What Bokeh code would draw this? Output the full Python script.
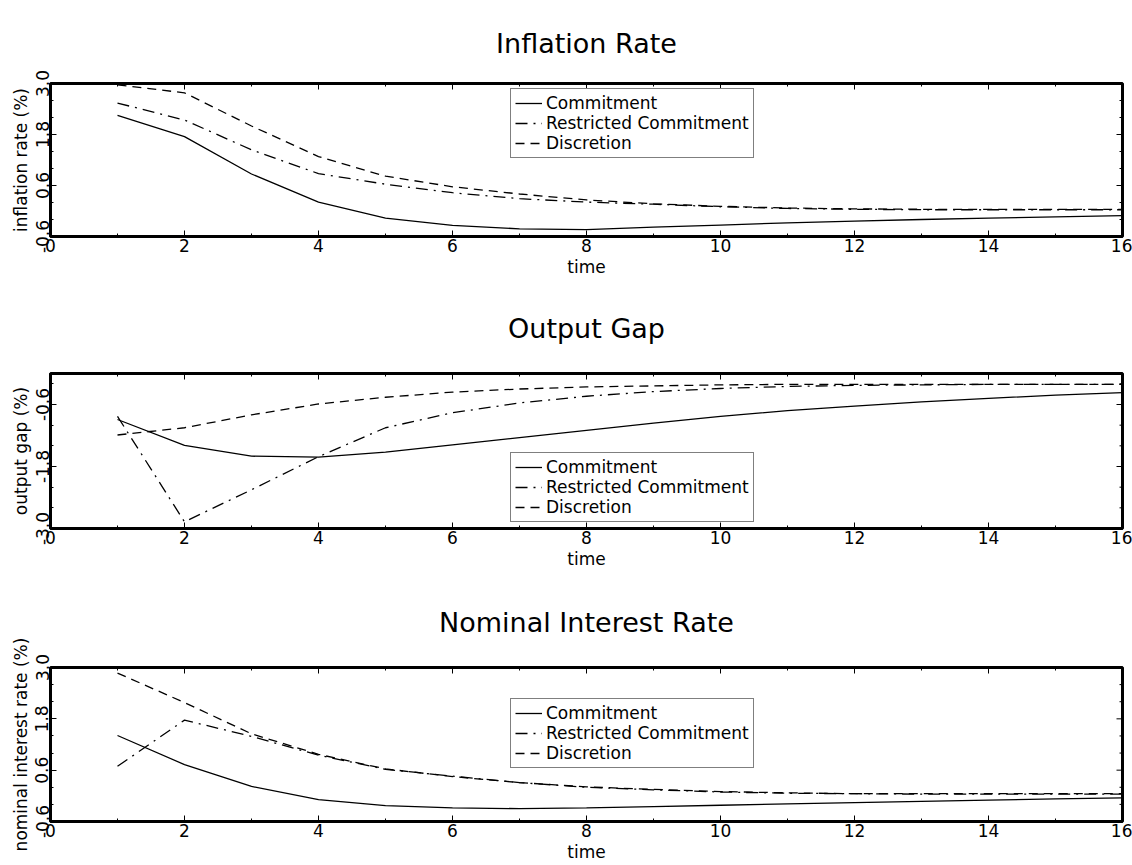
import math
from bokeh.plotting import figure
from bokeh.models import FixedTicker, Legend, LegendItem, Range1d, PrintfTickFormatter
from bokeh.layouts import column
from bokeh.embed import file_html
from bokeh.resources import INLINE

# ---------------- data ----------------
time = list(range(1, 17))

infl_commit = [2.25, 1.75, 0.87, 0.21, -0.17, -0.34, -0.42, -0.44, -0.38, -0.33, -0.28, -0.24, -0.20, -0.17, -0.14, -0.11]
infl_restr = [2.54, 2.14, 1.44, 0.88, 0.63, 0.43, 0.29, 0.21, 0.16, 0.10, 0.06, 0.04, 0.03, 0.03, 0.03, 0.03]
infl_disc = [2.97, 2.78, 2.00, 1.28, 0.82, 0.57, 0.40, 0.26, 0.17, 0.11, 0.07, 0.05, 0.04, 0.04, 0.04, 0.04]

gap_commit = [-0.89, -1.39, -1.60, -1.62, -1.52, -1.38, -1.24, -1.10, -0.96, -0.83, -0.72, -0.63, -0.55, -0.48, -0.42, -0.37]
gap_restr = [-0.83, -2.87, -2.25, -1.61, -1.05, -0.76, -0.57, -0.44, -0.35, -0.29, -0.25, -0.23, -0.22, -0.21, -0.21, -0.21]
gap_disc = [-1.19, -1.05, -0.80, -0.59, -0.46, -0.36, -0.30, -0.26, -0.24, -0.22, -0.21, -0.21, -0.21, -0.21, -0.21, -0.21]

int_commit = [1.41, 0.73, 0.22, -0.09, -0.23, -0.28, -0.30, -0.28, -0.25, -0.22, -0.19, -0.16, -0.13, -0.10, -0.07, -0.05]
int_restr = [0.69, 1.77, 1.39, 0.95, 0.62, 0.46, 0.31, 0.20, 0.14, 0.09, 0.06, 0.05, 0.04, 0.04, 0.04, 0.04]
int_disc = [2.87, 2.18, 1.45, 0.97, 0.63, 0.45, 0.31, 0.21, 0.15, 0.10, 0.07, 0.05, 0.05, 0.05, 0.05, 0.05]

series_names = ["Commitment", "Restricted Commitment", "Discretion"]
x_ticks = [0, 2, 4, 6, 8, 10, 12, 14, 16]
x_minor = [1, 3, 5, 7, 9, 11, 13, 15]
y_ticks_a = [-0.6, 0.6, 1.8, 3.0]
y_minor_a = [-0.2, 0.2, 1.0, 1.4, 2.2, 2.6]
y_ticks_b = [-3.0, -1.8, -0.6]
y_minor_b = [-2.6, -2.2, -1.4, -1.0, -0.2]

FONT = "DejaVu Sans"
DASHES = ["solid", "12 6 2 6", "9 6"]


def panel(title, ylabel, yr, yticks, yminor, ys, leg_loc, h, top, bottom, standoff):
    p = figure(width=1132, height=h, x_range=Range1d(0, 16), y_range=Range1d(*yr),
               output_backend="svg", toolbar_location=None,
               min_border_left=50, min_border_right=10,
               min_border_top=top, min_border_bottom=bottom)
    p.grid.visible = False
    p.outline_line_color = "black"
    p.outline_line_width = 3
    p.background_fill_color = "white"
    p.border_fill_color = "white"

    p.title.text = title
    p.title.align = "center"
    p.title.text_font = FONT
    p.title.text_font_size = "27px"
    p.title.text_font_style = "normal"
    p.title.text_color = "black"
    p.title.standoff = standoff

    xa = p.below[0]
    ya = p.left[0]
    xa.ticker = FixedTicker(ticks=x_ticks, minor_ticks=x_minor)
    xa.axis_label = "time"
    ya.ticker = FixedTicker(ticks=yticks, minor_ticks=yminor)
    ya.formatter = PrintfTickFormatter(format="%.1f")
    ya.axis_label = ylabel
    ya.major_label_orientation = "vertical"

    for ax in [xa, ya]:
        ax.axis_line_width = 3
        ax.axis_line_color = "black"
        ax.major_tick_in = 6
        ax.major_tick_out = 0
        ax.minor_tick_in = 3
        ax.minor_tick_out = 0
        ax.major_tick_line_color = "black"
        ax.minor_tick_line_color = "black"
        ax.major_label_text_font = FONT
        ax.major_label_text_color = "black"
        ax.major_label_text_font_size = "17px"
        ax.major_label_standoff = 2
        ax.axis_label_text_font = FONT
        ax.axis_label_text_font_style = "normal"
        ax.axis_label_text_color = "black"
        ax.axis_label_text_font_size = "17px"
        ax.axis_label_standoff = 2

    # tick marks on the top and right sides of the box (inward)
    p.ray(x=x_ticks, y=[yr[1]] * len(x_ticks), length=6, length_units="screen",
          angle=-math.pi / 2, line_color="black", line_width=1)
    p.ray(x=x_minor, y=[yr[1]] * len(x_minor), length=3, length_units="screen",
          angle=-math.pi / 2, line_color="black", line_width=1)
    p.ray(x=[16] * len(yticks), y=yticks, length=6, length_units="screen",
          angle=math.pi, line_color="black", line_width=1)
    p.ray(x=[16] * len(yminor), y=yminor, length=3, length_units="screen",
          angle=math.pi, line_color="black", line_width=1)

    items = []
    for name, y, dash in zip(series_names, ys, DASHES):
        r = p.line(time, y, line_color="black", line_width=1.3, line_dash=dash)
        items.append(LegendItem(label=name, renderers=[r]))
    leg = Legend(items=items, location=leg_loc)
    leg.border_line_color = "black"
    leg.border_line_width = 1
    leg.background_fill_color = "white"
    leg.background_fill_alpha = 1.0
    leg.label_text_font = FONT
    leg.label_text_font_size = "17px"
    leg.label_text_line_height = 1.0
    leg.label_text_color = "black"
    leg.glyph_width = 27
    leg.glyph_height = 18
    leg.label_height = 18
    leg.label_standoff = 4
    leg.padding = 4
    leg.spacing = 0
    leg.margin = 0
    p.add_layout(leg)
    return p


p1 = panel("Inflation Rate", "inflation rate (%)", (-0.6, 3.0), y_ticks_a, y_minor_a,
           [infl_commit, infl_restr, infl_disc], (460, 78), 280, 81, 44, 50)
p2 = panel("Output Gap", "output gap (%)", (-3.0, 0.0), y_ticks_b, y_minor_b,
           [gap_commit, gap_restr, gap_disc], (460, 6), 294, 92, 46, 60)
p3 = panel("Nominal Interest Rate", "nominal interest rate (%)", (-0.6, 3.0), y_ticks_a, y_minor_a,
           [int_commit, int_restr, int_disc], (460, 53), 290, 92, 42, 60)

layout = column(p1, p2, p3)
open("out.html", "w").write(file_html(layout, INLINE))
